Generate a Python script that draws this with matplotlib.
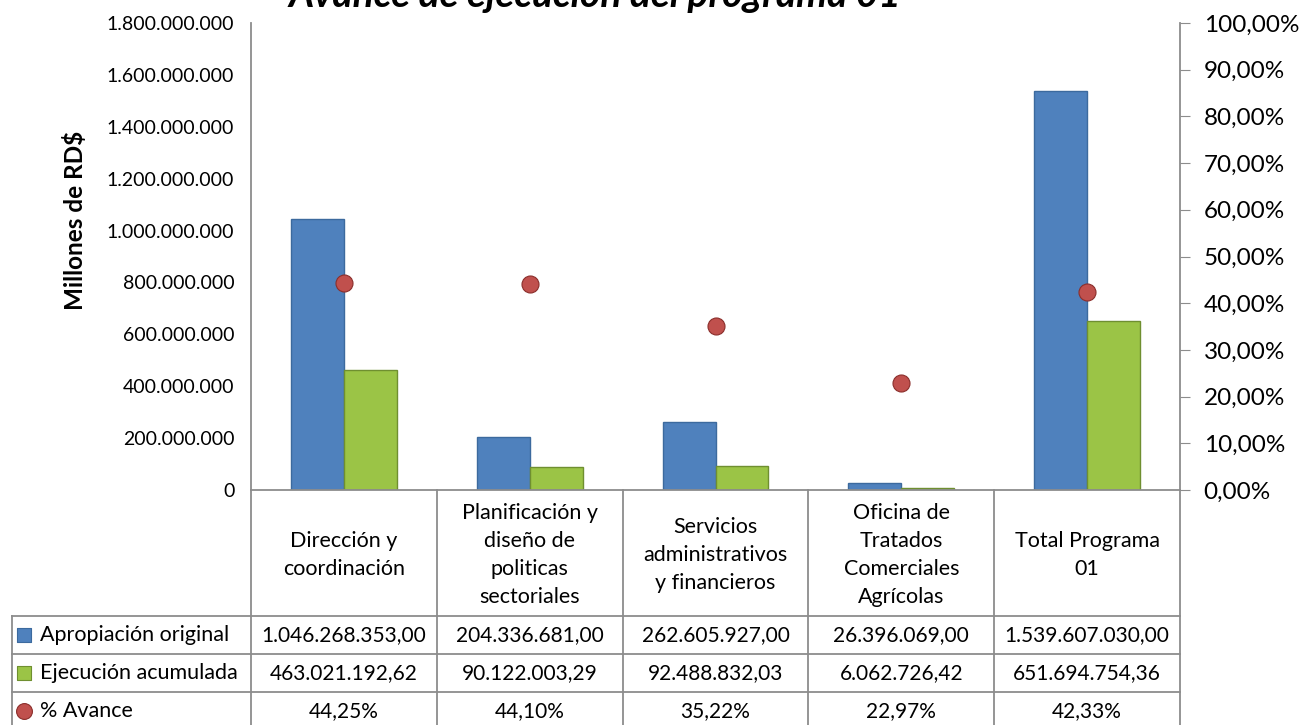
import matplotlib
matplotlib.use("Agg")
import matplotlib.pyplot as plt
from matplotlib.ticker import FuncFormatter
import numpy as np

plt.rcParams['font.family'] = ['Lato', 'DejaVu Sans']

# data
categorias = ["Dirección y\ncoordinación",
              "Planificación y\ndiseño de\npoliticas\nsectoriales",
              "Servicios\nadministrativos\ny financieros",
              "Oficina de\nTratados\nComerciales\nAgrícolas",
              "Total Programa\n01"]
apropiacion = [1046268353.00, 204336681.00, 262605927.00, 26396069.00, 1539607030.00]
ejecucion = [463021192.62, 90122003.29, 92488832.03, 6062726.42, 651694754.36]
avance = [44.25, 44.10, 35.22, 22.97, 42.33]
series = ["Apropiación original", "Ejecución acumulada", "% Avance"]
titulo = "Avance de ejecución del programa 01"

AZUL = '#4F81BD'
VERDE = '#9BC446'
ROJO = '#C0504D'
GRIS = '#8C8C8C'

W, H = 1301, 725


def num_es(v, dec=2):
    s = f"{v:,.{dec}f}"
    return s.replace(",", "X").replace(".", ",").replace("X", ".")


def fig_rect(x0, y0, x1, y1):
    # pixel box (top-left origin) -> figure fraction rect
    return [x0 / W, 1 - y1 / H, (x1 - x0) / W, (y1 - y0) / H]


fig = plt.figure(figsize=(W / 100, H / 100), dpi=100)

# main plot area
L, R, T, B = 251, 1180, 23, 490
ax = fig.add_axes(fig_rect(L, T, R, B))
n = len(categorias)
x = np.arange(n)
bw = 0.285
ax.bar(x - bw / 2, apropiacion, bw, color=AZUL, edgecolor='#3C6A9E', linewidth=1, zorder=2)
ax.bar(x + bw / 2, ejecucion, bw, color=VERDE, edgecolor='#6F8F30', linewidth=1, zorder=2)
ax.set_xlim(-0.5, n - 0.5)
ax.set_ylim(0, 1.8e9)
ax.set_yticks(np.arange(0, 1.8e9 + 1, 2e8))
ax.yaxis.set_major_formatter(FuncFormatter(lambda v, p: num_es(v, 0)))
ax.tick_params(axis='y', length=0, pad=12, labelsize=14)
ax.set_xticks([])
for s in ['top', 'right']:
    ax.spines[s].set_visible(False)
ax.spines['left'].set_color(GRIS)
ax.spines['bottom'].set_color(GRIS)
ax.spines['left'].set_linewidth(1.3)
ax.spines['bottom'].set_linewidth(1.3)

ax2 = ax.twinx()
ax2.scatter(x, np.array(avance) / 100, s=150, color=ROJO, edgecolor='#8B2E2B',
            linewidth=0.8, zorder=3)
ax2.set_ylim(0, 1)
ax2.set_yticks(np.arange(0, 1.001, 0.1))
ax2.yaxis.set_major_formatter(FuncFormatter(lambda v, p: num_es(v * 100) + "%"))
ax2.tick_params(axis='y', direction='out', length=7, color=GRIS, pad=10, labelsize=17.5)
for s in ['top', 'left', 'bottom']:
    ax2.spines[s].set_visible(False)
ax2.spines['right'].set_color(GRIS)
ax2.spines['right'].set_linewidth(1.3)

fig.text(75 / W, 1 - 220 / H, "Millones de RD$", rotation=90, ha='center', va='center',
         fontsize=17.5, fontweight='bold')

# title is cut by the top edge, as in the original
fig.text(595 / W, 1 - 7 / H, titulo, ha='center', va='baseline', fontsize=28,
         fontweight='bold', style='italic')

# data table below the plot, in pixel coordinates
tb = fig.add_axes([0, 0, 1, 1])
tb.set_xlim(0, W)
tb.set_ylim(H, 0)
tb.axis('off')
cw = (R - L) / n
rows = [490, 616, 654, 692, 730]
tleft = 12
for i in range(n + 1):
    tb.plot([L + i * cw] * 2, [rows[0], rows[-1]], color=GRIS, lw=1.3)
tb.plot([tleft, tleft], [rows[1], rows[-1]], color=GRIS, lw=1.3)
for yy in rows[1:]:
    tb.plot([tleft, R], [yy, yy], color=GRIS, lw=1.3)

for i, c in enumerate(categorias):
    tb.text(L + (i + 0.5) * cw, (rows[0] + rows[1]) / 2 + 2, c, ha='center', va='center',
            fontsize=15.5, linespacing=1.5)

valores = [[num_es(v) for v in apropiacion],
           [num_es(v) for v in ejecucion],
           [num_es(v) + "%" for v in avance]]
for r in range(3):
    yc = (rows[r + 1] + rows[r + 2]) / 2
    tb.text(40, yc, series[r], ha='left', va='center', fontsize=15.5)
    for i in range(n):
        tb.text(L + (i + 0.5) * cw, yc, valores[r][i], ha='center', va='center', fontsize=15)

# legend keys in the row labels
yk = [(rows[r + 1] + rows[r + 2]) / 2 for r in range(3)]
tb.scatter([24], [yk[0]], marker='s', s=110, color=AZUL, edgecolor='#3C6A9E', lw=0.8)
tb.scatter([24], [yk[1]], marker='s', s=110, color=VERDE, edgecolor='#6F8F30', lw=0.8)
tb.scatter([24], [yk[2]], marker='o', s=130, color=ROJO, edgecolor='#8B2E2B', lw=0.8)

fig.savefig("out.png", dpi=100)
